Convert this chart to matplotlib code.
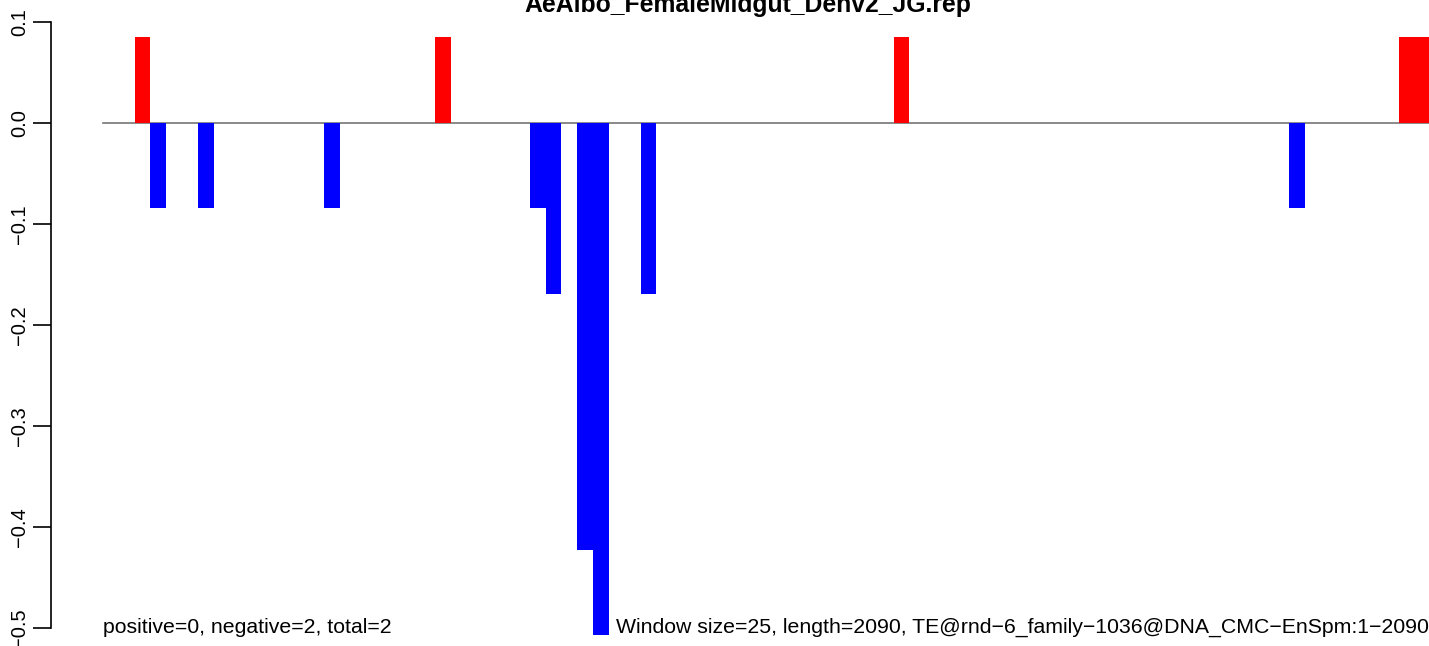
import matplotlib
matplotlib.use("Agg")
import matplotlib.pyplot as plt

W, H = 1429, 646
DPI = 100

title = "AeAlbo_FemaleMidgut_Denv2_JG.rep"
left_note = "positive=0, negative=2, total=2"
right_note = "Window size=25, length=2090, TE@rnd\u22126_family\u22121036@DNA_CMC\u2212EnSpm:1\u22122090"

# window index -> signal (84 windows of 25 bp)
n_windows = 84
bar_index = [2, 3, 6, 14, 21, 27, 28, 30, 31, 34, 50, 75, 82, 83]
bar_value = [0.0846, -0.0846, -0.0846, -0.0846, 0.0846, -0.0846, -0.1692,
             -0.4231, -0.5077, -0.1692, 0.0846, -0.0846, 0.0846, 0.0846]
yticks = [0.1, 0.0, -0.1, -0.2, -0.3, -0.4, -0.5]

plt.rcParams['font.family'] = ['Liberation Sans', 'DejaVu Sans']

fig = plt.figure(figsize=(W / DPI, H / DPI), dpi=DPI)
ax_left = 51 / W
ax = fig.add_axes([ax_left, 0, 1 - ax_left, 1])

px_per_bar = 15.81
x0_px = 103
ax.set_xlim((51 - x0_px) / px_per_bar, (W - x0_px) / px_per_bar)
ax.set_ylim(-(H - 122.7) / 1010, 122.7 / 1010)

colors = ['#ff0000' if v > 0 else '#0000ff' for v in bar_value]
ax.bar(bar_index, bar_value, width=1.0, align='edge', color=colors,
       linewidth=0, zorder=2)
ax.plot([0, n_windows], [0, 0], color='#757575', linewidth=1.2, zorder=1)

for s in ['top', 'right', 'bottom']:
    ax.spines[s].set_visible(False)
ax.spines['left'].set_bounds(-0.5, 0.1)
ax.spines['left'].set_linewidth(1.2)
ax.set_xticks([])
ax.set_yticks(yticks)
ax.set_yticklabels([('%.1f' % t).replace('-', '\u2212') for t in yticks],
                   rotation=90, va='center', fontsize=14.5)
ax.tick_params(axis='y', length=13, width=1.2, pad=3)

fig.text(748 / W, 1 - 12 / H, title, ha='center', va='baseline',
         fontsize=17.8, fontweight='bold')
ax.text(0, -0.5, left_note, ha='left', va='center', fontsize=15.3)
ax.text(1.0, -0.5, right_note, transform=ax.get_yaxis_transform(),
        ha='right', va='center', fontsize=15.3)

fig.savefig("out.png", dpi=DPI)
